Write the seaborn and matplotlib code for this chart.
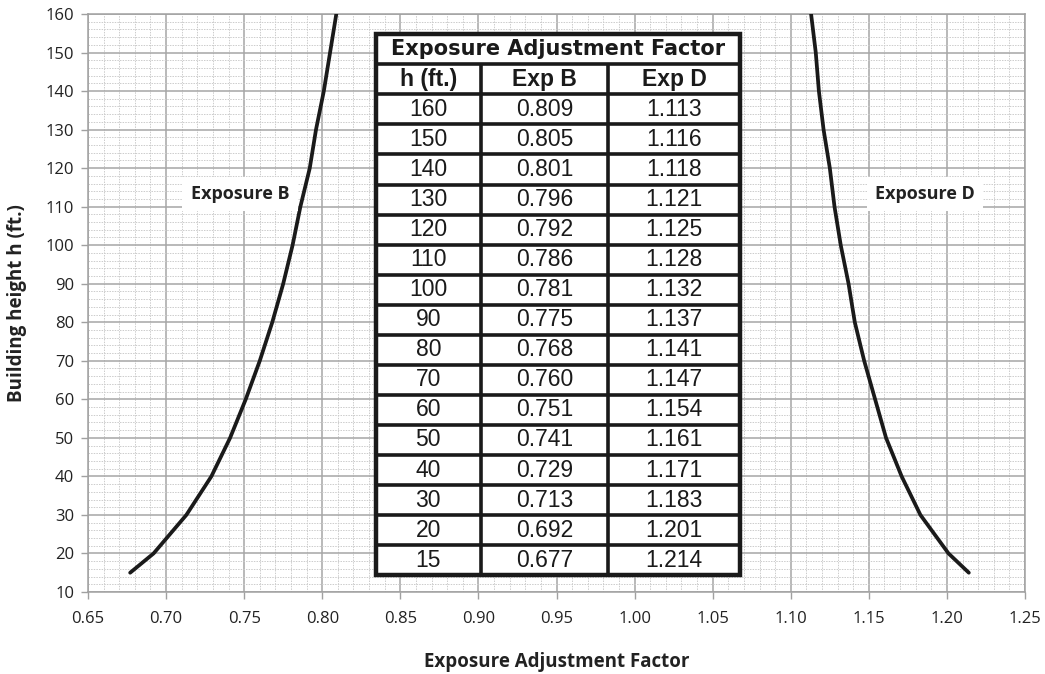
import matplotlib.pyplot as plt
import pandas as pd
import seaborn as sns
from matplotlib.ticker import MultipleLocator
from matplotlib.patches import Rectangle

heights = [160, 150, 140, 130, 120, 110, 100, 90, 80, 70, 60, 50, 40, 30, 20, 15]
exp_b = [0.809, 0.805, 0.801, 0.796, 0.792, 0.786, 0.781, 0.775, 0.768, 0.760,
         0.751, 0.741, 0.729, 0.713, 0.692, 0.677]
exp_d = [1.113, 1.116, 1.118, 1.121, 1.125, 1.128, 1.132, 1.137, 1.141, 1.147,
         1.154, 1.161, 1.171, 1.183, 1.201, 1.214]
exp_b_txt = ["0.809", "0.805", "0.801", "0.796", "0.792", "0.786", "0.781", "0.775",
             "0.768", "0.760", "0.751", "0.741", "0.729", "0.713", "0.692", "0.677"]
exp_d_txt = ["1.113", "1.116", "1.118", "1.121", "1.125", "1.128", "1.132", "1.137",
             "1.141", "1.147", "1.154", "1.161", "1.171", "1.183", "1.201", "1.214"]
x_ticks = [0.65, 0.70, 0.75, 0.80, 0.85, 0.90, 0.95, 1.00, 1.05, 1.10, 1.15, 1.20, 1.25]
y_ticks = list(range(10, 161, 10))

df = pd.DataFrame({
    "h": heights * 2,
    "factor": exp_b + exp_d,
    "exposure": ["B"] * len(heights) + ["D"] * len(heights),
})

sns.set_theme(style="white")
plt.rcParams['font.family'] = ['Open Sans', 'DejaVu Sans']

fig = plt.figure(figsize=(10.45, 6.74), dpi=100)
ax = fig.add_axes([0.0842, 0.1217, 0.8967, 0.8575])

sns.lineplot(data=df, x="factor", y="h", units="exposure", estimator=None, sort=False,
             color="#1a1a1a", linewidth=2.7, ax=ax, zorder=3)

ax.set_xlim(0.65, 1.25)
ax.set_ylim(10, 160)
ax.set_xticks(x_ticks)
ax.set_xticklabels([f"{v:.2f}" for v in x_ticks])
ax.set_yticks(y_ticks)
ax.xaxis.set_minor_locator(MultipleLocator(0.01))
ax.yaxis.set_minor_locator(MultipleLocator(2))
ax.grid(which="major", color="#a6a6a6", linewidth=1.1, zorder=0)
ax.grid(which="minor", color="#cccccc", linewidth=0.7, linestyle=(0, (1.5, 1.2)), zorder=0)
ax.set_axisbelow(True)
for sp in ax.spines.values():
    sp.set_color("#a0a0a0")
    sp.set_linewidth(1.1)
ax.tick_params(axis="both", which="major", length=5, width=1, color="#a0a0a0",
               labelsize=12, labelcolor="#222222", direction="out", left=True, bottom=True)
ax.tick_params(axis="x", pad=9)
ax.tick_params(axis="y", pad=5)

ax.set_xlabel("Exposure Adjustment Factor", fontsize=13.5, fontweight="bold",
              color="#222222", labelpad=18)
ax.set_ylabel("Building height h (ft.)", fontsize=13.5, fontweight="bold",
              color="#222222")
ax.yaxis.set_label_coords(-0.065, 0.5)

# Etiquettes des courbes
box = dict(facecolor="white", edgecolor="none", pad=6)
ax.text(0.7473, 113.3, "Exposure B", fontsize=13, fontweight="bold", color="#222222",
        ha="center", va="center", bbox=box, zorder=4)
ax.text(1.186, 113.3, "Exposure D", fontsize=13, fontweight="bold", color="#222222",
        ha="center", va="center", bbox=box, zorder=4)

# Tableau en coordonnees des axes
x0, x1 = 0.307, 0.696
col_edges = [0.307, 0.4194, 0.555, 0.696]
top, bottom = 0.965, 0.029
n_rows = len(heights) + 2
row_h = (top - bottom) / n_rows
tfont = ['Liberation Sans', 'DejaVu Sans']

ax.add_patch(Rectangle((x0, bottom), x1 - x0, top - bottom, transform=ax.transAxes,
                       facecolor="white", edgecolor="#1a1a1a", linewidth=3.2, zorder=5))
for i in range(1, n_rows):
    y = top - i * row_h
    ax.plot([x0, x1], [y, y], transform=ax.transAxes, color="#1a1a1a", linewidth=2.6,
            zorder=6, solid_capstyle="butt")
for xc in col_edges[1:-1]:
    ax.plot([xc, xc], [bottom, top - row_h], transform=ax.transAxes, color="#1a1a1a",
            linewidth=2.6, zorder=6, solid_capstyle="butt")

ax.text((x0 + x1) / 2, top - row_h / 2, "Exposure Adjustment Factor", transform=ax.transAxes,
        ha="center", va="center", fontsize=15, fontweight="bold",
        family=['DejaVu Sans'], color="#1a1a1a", zorder=7)
headers = ["h (ft.)", "Exp B", "Exp D"]
centers = [(col_edges[j] + col_edges[j + 1]) / 2 for j in range(3)]
for j, hd in enumerate(headers):
    ax.text(centers[j], top - 1.5 * row_h, hd, transform=ax.transAxes, ha="center",
            va="center", fontsize=16.5, fontweight="bold", family=tfont,
            color="#1a1a1a", zorder=7)
for i, (hv, bv, dv) in enumerate(zip(heights, exp_b_txt, exp_d_txt)):
    yc = top - (i + 2.5) * row_h
    for j, s in enumerate([str(hv), bv, dv]):
        ax.text(centers[j], yc, s, transform=ax.transAxes, ha="center", va="center",
                fontsize=16.5, family=tfont, color="#1a1a1a", zorder=7)

fig.savefig("out.png", dpi=100)
